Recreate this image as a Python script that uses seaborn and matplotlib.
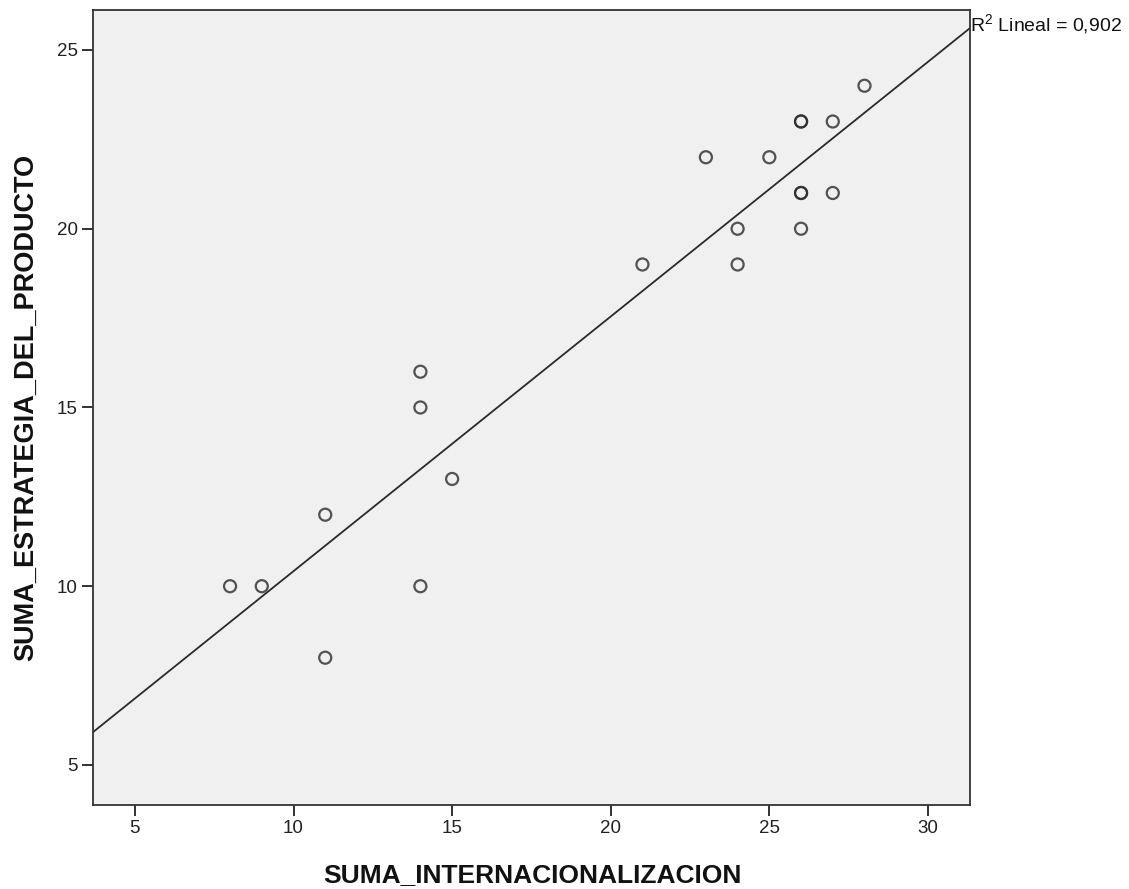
import numpy as np
import pandas as pd
import matplotlib.pyplot as plt
import seaborn as sns

# Data
internacionalizacion = [8, 9, 11, 11, 14, 14, 14, 15, 21, 23, 24, 24, 25, 26, 26, 26, 26, 26, 27, 27, 28]
estrategia_producto = [10, 10, 12, 8, 16, 15, 10, 13, 19, 22, 20, 19, 22, 23, 23, 21, 21, 20, 23, 21, 24]
x_ticks = [5, 10, 15, 20, 25, 30]
y_ticks = [5, 10, 15, 20, 25]
r2_label = "R$^2$ Lineal = 0,902"

df = pd.DataFrame({"SUMA_INTERNACIONALIZACION": internacionalizacion,
                   "SUMA_ESTRATEGIA_DEL_PRODUCTO": estrategia_producto})

sns.set_style("ticks")
plt.rcParams['font.family'] = ['Liberation Sans', 'DejaVu Sans']
plt.rcParams['mathtext.fontset'] = 'custom'
plt.rcParams['mathtext.rm'] = 'Liberation Sans'

fig = plt.figure(figsize=(11.29, 8.89), dpi=100)
ax = fig.add_axes([0.0824, 0.0945, 0.7766, 0.8943])
ax.set_facecolor("#f0f0f0")
# limits first so the fit line spans the whole frame
ax.set_xlim(3.68, 31.32)
ax.set_ylim(3.88, 26.12)

sns.regplot(data=df, x="SUMA_INTERNACIONALIZACION", y="SUMA_ESTRATEGIA_DEL_PRODUCTO",
            ax=ax, ci=None, truncate=False,
            scatter_kws={"s": 75, "facecolors": "none", "edgecolors": "#2a2a2a", "linewidths": 1.6},
            line_kws={"color": "#2a2a2a", "linewidth": 1.3})

ax.set_xlim(3.68, 31.32)
ax.set_ylim(3.88, 26.12)
ax.set_xticks(x_ticks)
ax.set_yticks(y_ticks)
ax.tick_params(length=8, width=1.3, pad=3, color="#222222", labelsize=13.5, labelcolor="#222222")
for s in ax.spines.values():
    s.set_color("#333333")
    s.set_linewidth(1.3)

ax.set_xlabel("SUMA_INTERNACIONALIZACION", fontsize=19, fontweight="bold", color="#111111")
ax.set_ylabel("SUMA_ESTRATEGIA_DEL_PRODUCTO", fontsize=19.5, fontweight="bold", color="#111111")
ax.xaxis.set_label_coords(0.501, -0.073)
ax.yaxis.set_label_coords(-0.062, 0.5)

ax.text(1.0, 0.982, r2_label, transform=ax.transAxes, fontsize=14, ha="left", va="center",
        color="#111111", clip_on=False)

plt.savefig("out.png", dpi=100)
plt.close()
